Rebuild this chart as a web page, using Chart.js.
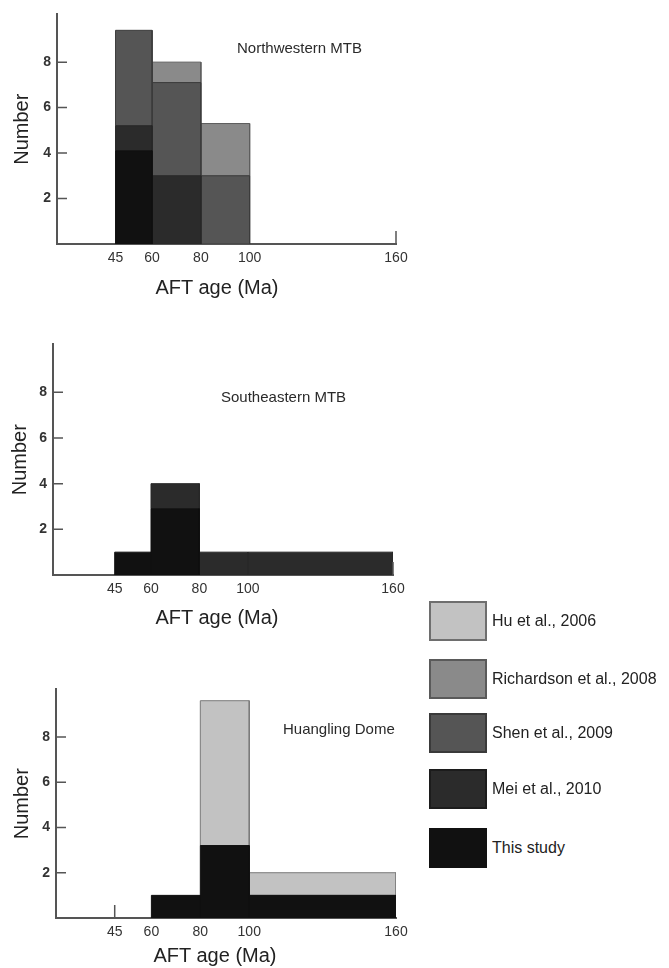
<!DOCTYPE html>
<html>
<head>
<meta charset="utf-8">
<script src="https://cdn.jsdelivr.net/npm/chart.js@4/dist/chart.umd.min.js"></script>
<style>
  body { margin: 0; background: #fff; font-family: Arial, "Liberation Sans", sans-serif; }
  #page { position: relative; width: 669px; height: 968px; overflow: hidden; }
  .plot { position: absolute; left: 0; }
  .note { position: absolute; font-size: 15px; color: #2a2a2a; white-space: nowrap; line-height: 18px; }
  .xtitle { position: absolute; left: 117px; width: 200px; text-align: center; font-size: 20px; color: #222; line-height: 24px; }
  .key { position: absolute; left: 429px; width: 58px; height: 40px; box-sizing: border-box; border: 2px solid #666; }
  .keytxt { position: absolute; left: 492px; font-size: 16px; color: #222; line-height: 40px; white-space: nowrap; }
</style>
</head>
<body>
<div id="page">
  <div class="plot" style="top:0px;width:420px;height:310px"><canvas id="nw"></canvas></div>
  <div class="plot" style="top:330px;width:420px;height:310px"><canvas id="se"></canvas></div>
  <div class="plot" style="top:675px;width:420px;height:293px"><canvas id="hd"></canvas></div>

  <div class="note" style="left:237px;top:39px">Northwestern MTB</div>
  <div class="note" style="left:221px;top:388px">Southeastern MTB</div>
  <div class="note" style="left:283px;top:720px">Huangling Dome</div>

  <div class="xtitle" style="top:275px">AFT age (Ma)</div>
  <div class="xtitle" style="top:605px">AFT age (Ma)</div>
  <div class="xtitle" style="top:943px;left:115px">AFT age (Ma)</div>

  <div id="legend"></div>
</div>
<script>
// age bins (Ma): 45-60, 60-80, 80-100, 100-160
const binEdges = [45, 60, 80, 100, 160];
const xTicks = [45, 60, 80, 100, 160];
const yTicks = [2, 4, 6, 8];

// sources, drawn bottom to top
const sources = ['This study', 'Mei et al., 2010', 'Shen et al., 2009', 'Richardson et al., 2008', 'Hu et al., 2006'];
const fills = ['#111111', '#2b2b2b', '#555555', '#8a8a8a', '#c2c2c2'];
const edges = ['#111111', '#282828', '#3c3c3c', '#5e5e5e', '#7a7a7a'];

// Northwestern MTB
const nwThisStudy  = [4.1, 0, 0, 0];
const nwMei        = [1.1, 3, 0, 0];
const nwShen       = [4.2, 4.1, 3, 0];
const nwRichardson = [0, 0.9, 2.3, 0];
const nwHu         = [0, 0, 0, 0];

// Southeastern MTB
const seThisStudy  = [1, 2.9, 0, 0];
const seMei        = [0, 1.1, 1, 1];
const seShen       = [0, 0, 0, 0];
const seRichardson = [0, 0, 0, 0];
const seHu         = [0, 0, 0, 0];

// Huangling Dome
const hdThisStudy  = [0, 1, 3.2, 1];
const hdMei        = [0, 0, 0, 0];
const hdShen       = [0, 0, 0, 0];
const hdRichardson = [0, 0, 0, 0];
const hdHu         = [0, 0, 6.4, 1];

// build one closed rectangle per (source, bin), stacked on the ones below
function buildRects(counts) {
    var sets = [];
    var base = binEdges.slice(1).map(function () { return 0; });
    counts.forEach(function (vals, s) {
        vals.forEach(function (v, i) {
            if (v > 0) {
                var x0 = binEdges[i], x1 = binEdges[i + 1];
                var b = base[i], t = base[i] + v;
                sets.push({
                    label: sources[s],
                    data: [{x: x0, y: b}, {x: x0, y: t}, {x: x1, y: t}, {x: x1, y: b}, {x: x0, y: b}],
                    showLine: true,
                    fill: 'shape',
                    backgroundColor: fills[s],
                    borderColor: edges[s],
                    borderWidth: 1,
                    pointRadius: 0,
                    tension: 0
                });
                base[i] = t;
            }
        });
    });
    return sets;
}

// small tick marks drawn inward from the axes
const innerTicks = {
    id: 'innerTicks',
    afterDatasetsDraw: function (chart, args, opts) {
        var ctx = chart.ctx, x = chart.scales.x, y = chart.scales.y;
        ctx.save();
        ctx.strokeStyle = '#555';
        ctx.lineWidth = 1.5;
        ctx.beginPath();
        yTicks.forEach(function (v) {
            var py = y.getPixelForValue(v);
            ctx.moveTo(x.left, py);
            ctx.lineTo(x.left + 10, py);
        });
        (opts.marks || []).forEach(function (v) {
            var px = x.getPixelForValue(v);
            ctx.moveTo(px, y.bottom);
            ctx.lineTo(px, y.bottom - 13);
        });
        ctx.stroke();
        ctx.restore();
    }
};

var font = 'Arial, "Liberation Sans", sans-serif';

function makeChart(id, counts, o) {
    return new Chart(document.getElementById(id), {
        type: 'scatter',
        data: { datasets: buildRects(counts) },
        plugins: [innerTicks],
        options: {
            responsive: true,
            maintainAspectRatio: false,
            animation: false,
            layout: { padding: { top: 7, right: o.right, left: 0, bottom: 0 } },
            plugins: {
                legend: { display: false },
                tooltip: { enabled: false },
                innerTicks: { marks: o.marks }
            },
            scales: {
                x: {
                    type: 'linear',
                    min: o.xmin,
                    max: 160,
                    afterBuildTicks: function (s) { s.ticks = xTicks.map(function (v) { return {value: v}; }); },
                    afterFit: function (s) { s.height = o.xh; },
                    grid: { display: false, drawTicks: false },
                    border: { display: true, color: '#555', width: 2 },
                    ticks: { padding: 6, color: '#333', font: { family: font, size: 14 }, maxRotation: 0, autoSkip: false }
                },
                y: {
                    type: 'linear',
                    min: 0,
                    max: 10.1,
                    afterBuildTicks: function (s) { s.ticks = yTicks.map(function (v) { return {value: v}; }); },
                    afterFit: function (s) { s.width = o.yw; },
                    grid: { display: false, drawTicks: false },
                    border: { display: true, color: '#555', width: 2 },
                    ticks: { padding: 6, color: '#333', font: { family: font, size: 14, weight: 'bold' } },
                    title: { display: true, text: 'Number', color: '#222', font: { family: font, size: 20 }, padding: { top: o.yt, bottom: 0 } }
                }
            }
        }
    });
}

makeChart('nw', [nwThisStudy, nwMei, nwShen, nwRichardson, nwHu], { right: 24, xh: 66, yw: 57, yt: 10, xmin: 21, marks: [160] });
makeChart('se', [seThisStudy, seMei, seShen, seRichardson, seHu], { right: 27, xh: 65, yw: 53, yt: 8, xmin: 19.5, marks: [160] });
makeChart('hd', [hdThisStudy, hdMei, hdShen, hdRichardson, hdHu], { right: 24, xh: 50, yw: 56, yt: 10, xmin: 21, marks: [45] });

// legend, lightest at the top
var keyTops = [601, 659, 713, 769, 828];
var keyBorders = ['#6e6e6e', '#5a5a5a', '#3a3a3a', '#1c1c1c', '#111111'];
var legend = document.getElementById('legend');
for (var k = 0; k < sources.length; k++) {
    var s = sources.length - 1 - k;
    var box = document.createElement('div');
    box.className = 'key';
    box.style.top = keyTops[k] + 'px';
    box.style.background = fills[s];
    box.style.borderColor = keyBorders[k];
    legend.appendChild(box);
    var txt = document.createElement('div');
    txt.className = 'keytxt';
    txt.style.top = keyTops[k] + 'px';
    txt.textContent = sources[s];
    legend.appendChild(txt);
}
</script>
</body>
</html>
